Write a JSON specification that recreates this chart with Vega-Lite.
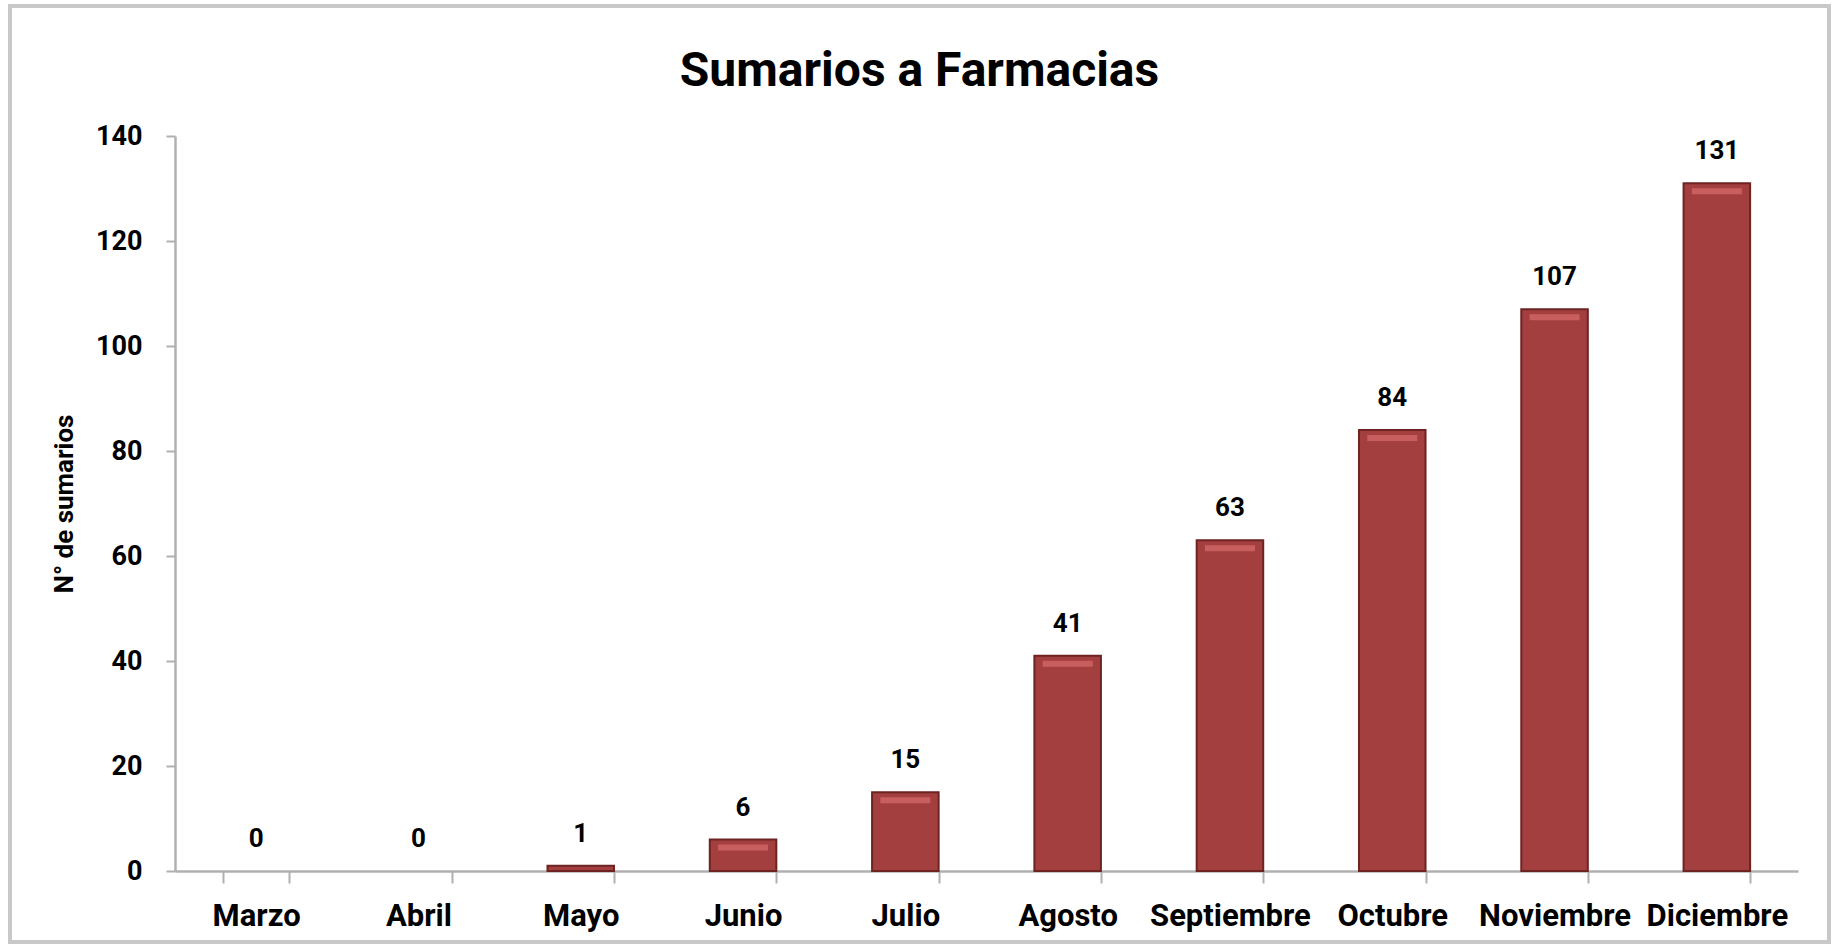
{
  "$schema": "https://vega.github.io/schema/vega-lite/v6.json",
  "width": 1819,
  "height": 936,
  "autosize": {"type": "none"},
  "padding": {"left": 10, "top": 6, "right": 6, "bottom": 6},
  "background": "white",
  "title": {
    "text": "Sumarios a Farmacias",
    "font": "Roboto",
    "fontSize": 48,
    "fontWeight": "bold",
    "color": "black",
    "anchor": "middle",
    "offset": -90
  },
  "data": {
    "values": [
      {"mes": "Marzo", "sumarios": 0},
      {"mes": "Abril", "sumarios": 0},
      {"mes": "Mayo", "sumarios": 1},
      {"mes": "Junio", "sumarios": 6},
      {"mes": "Julio", "sumarios": 15},
      {"mes": "Agosto", "sumarios": 41},
      {"mes": "Septiembre", "sumarios": 63},
      {"mes": "Octubre", "sumarios": 84},
      {"mes": "Noviembre", "sumarios": 107},
      {"mes": "Diciembre", "sumarios": 131}
    ]
  },
  "encoding": {
    "x": {
      "field": "mes",
      "type": "nominal",
      "sort": ["Marzo", "Abril", "Mayo", "Junio", "Julio", "Agosto", "Septiembre", "Octubre", "Noviembre", "Diciembre"],
      "scale": {"range": [165, 1788], "paddingInner": 0.59, "paddingOuter": 0.295},
      "axis": {
        "title": null,
        "offset": -71,
        "labelAngle": 0,
        "labelFont": "Roboto",
        "labelFontWeight": "bold",
        "labelFontSize": 31,
        "labelColor": "black",
        "labelPadding": 18,
        "tickBand": "extent",
        "tickSize": 12,
        "tickWidth": 2,
        "tickColor": "#B0B0B0",
        "domainColor": "#B0B0B0",
        "domainWidth": 2.5
      }
    },
    "y": {
      "field": "sumarios",
      "type": "quantitative",
      "scale": {"domain": [0, 140], "nice": false, "range": [865, 130]},
      "axis": {
        "title": "N° de sumarios",
        "titleFont": "Roboto",
        "titleFontWeight": "bold",
        "titleFontSize": 26,
        "titleColor": "black",
        "titlePadding": 18,
        "offset": -165,
        "values": [0, 20, 40, 60, 80, 100, 120, 140],
        "grid": false,
        "labelFont": "Roboto",
        "labelFontWeight": "bold",
        "labelFontSize": 27,
        "labelColor": "black",
        "labelPadding": 24,
        "tickSize": 9,
        "tickWidth": 2,
        "tickColor": "#B0B0B0",
        "domainColor": "#B0B0B0",
        "domainWidth": 2.5
      }
    }
  },
  "layer": [
    {
      "transform": [{"filter": "datum.sumarios > 0"}],
      "mark": {"type": "bar", "color": "#A43F3F", "stroke": "#6E2323", "strokeWidth": 2}
    },
    {
      "transform": [{"filter": "datum.sumarios >= 5"}],
      "mark": {"type": "tick", "orient": "horizontal", "color": "#D86C6C", "size": 50, "thickness": 6, "yOffset": 8}
    },
    {
      "mark": {"type": "text", "font": "Roboto", "fontWeight": "bold", "fontSize": 26, "color": "black", "baseline": "bottom", "dy": -19},
      "encoding": {"text": {"field": "sumarios", "type": "quantitative"}}
    }
  ],
  "config": {
    "view": {"stroke": "#C8C8C8", "strokeWidth": 4}
  }
}
